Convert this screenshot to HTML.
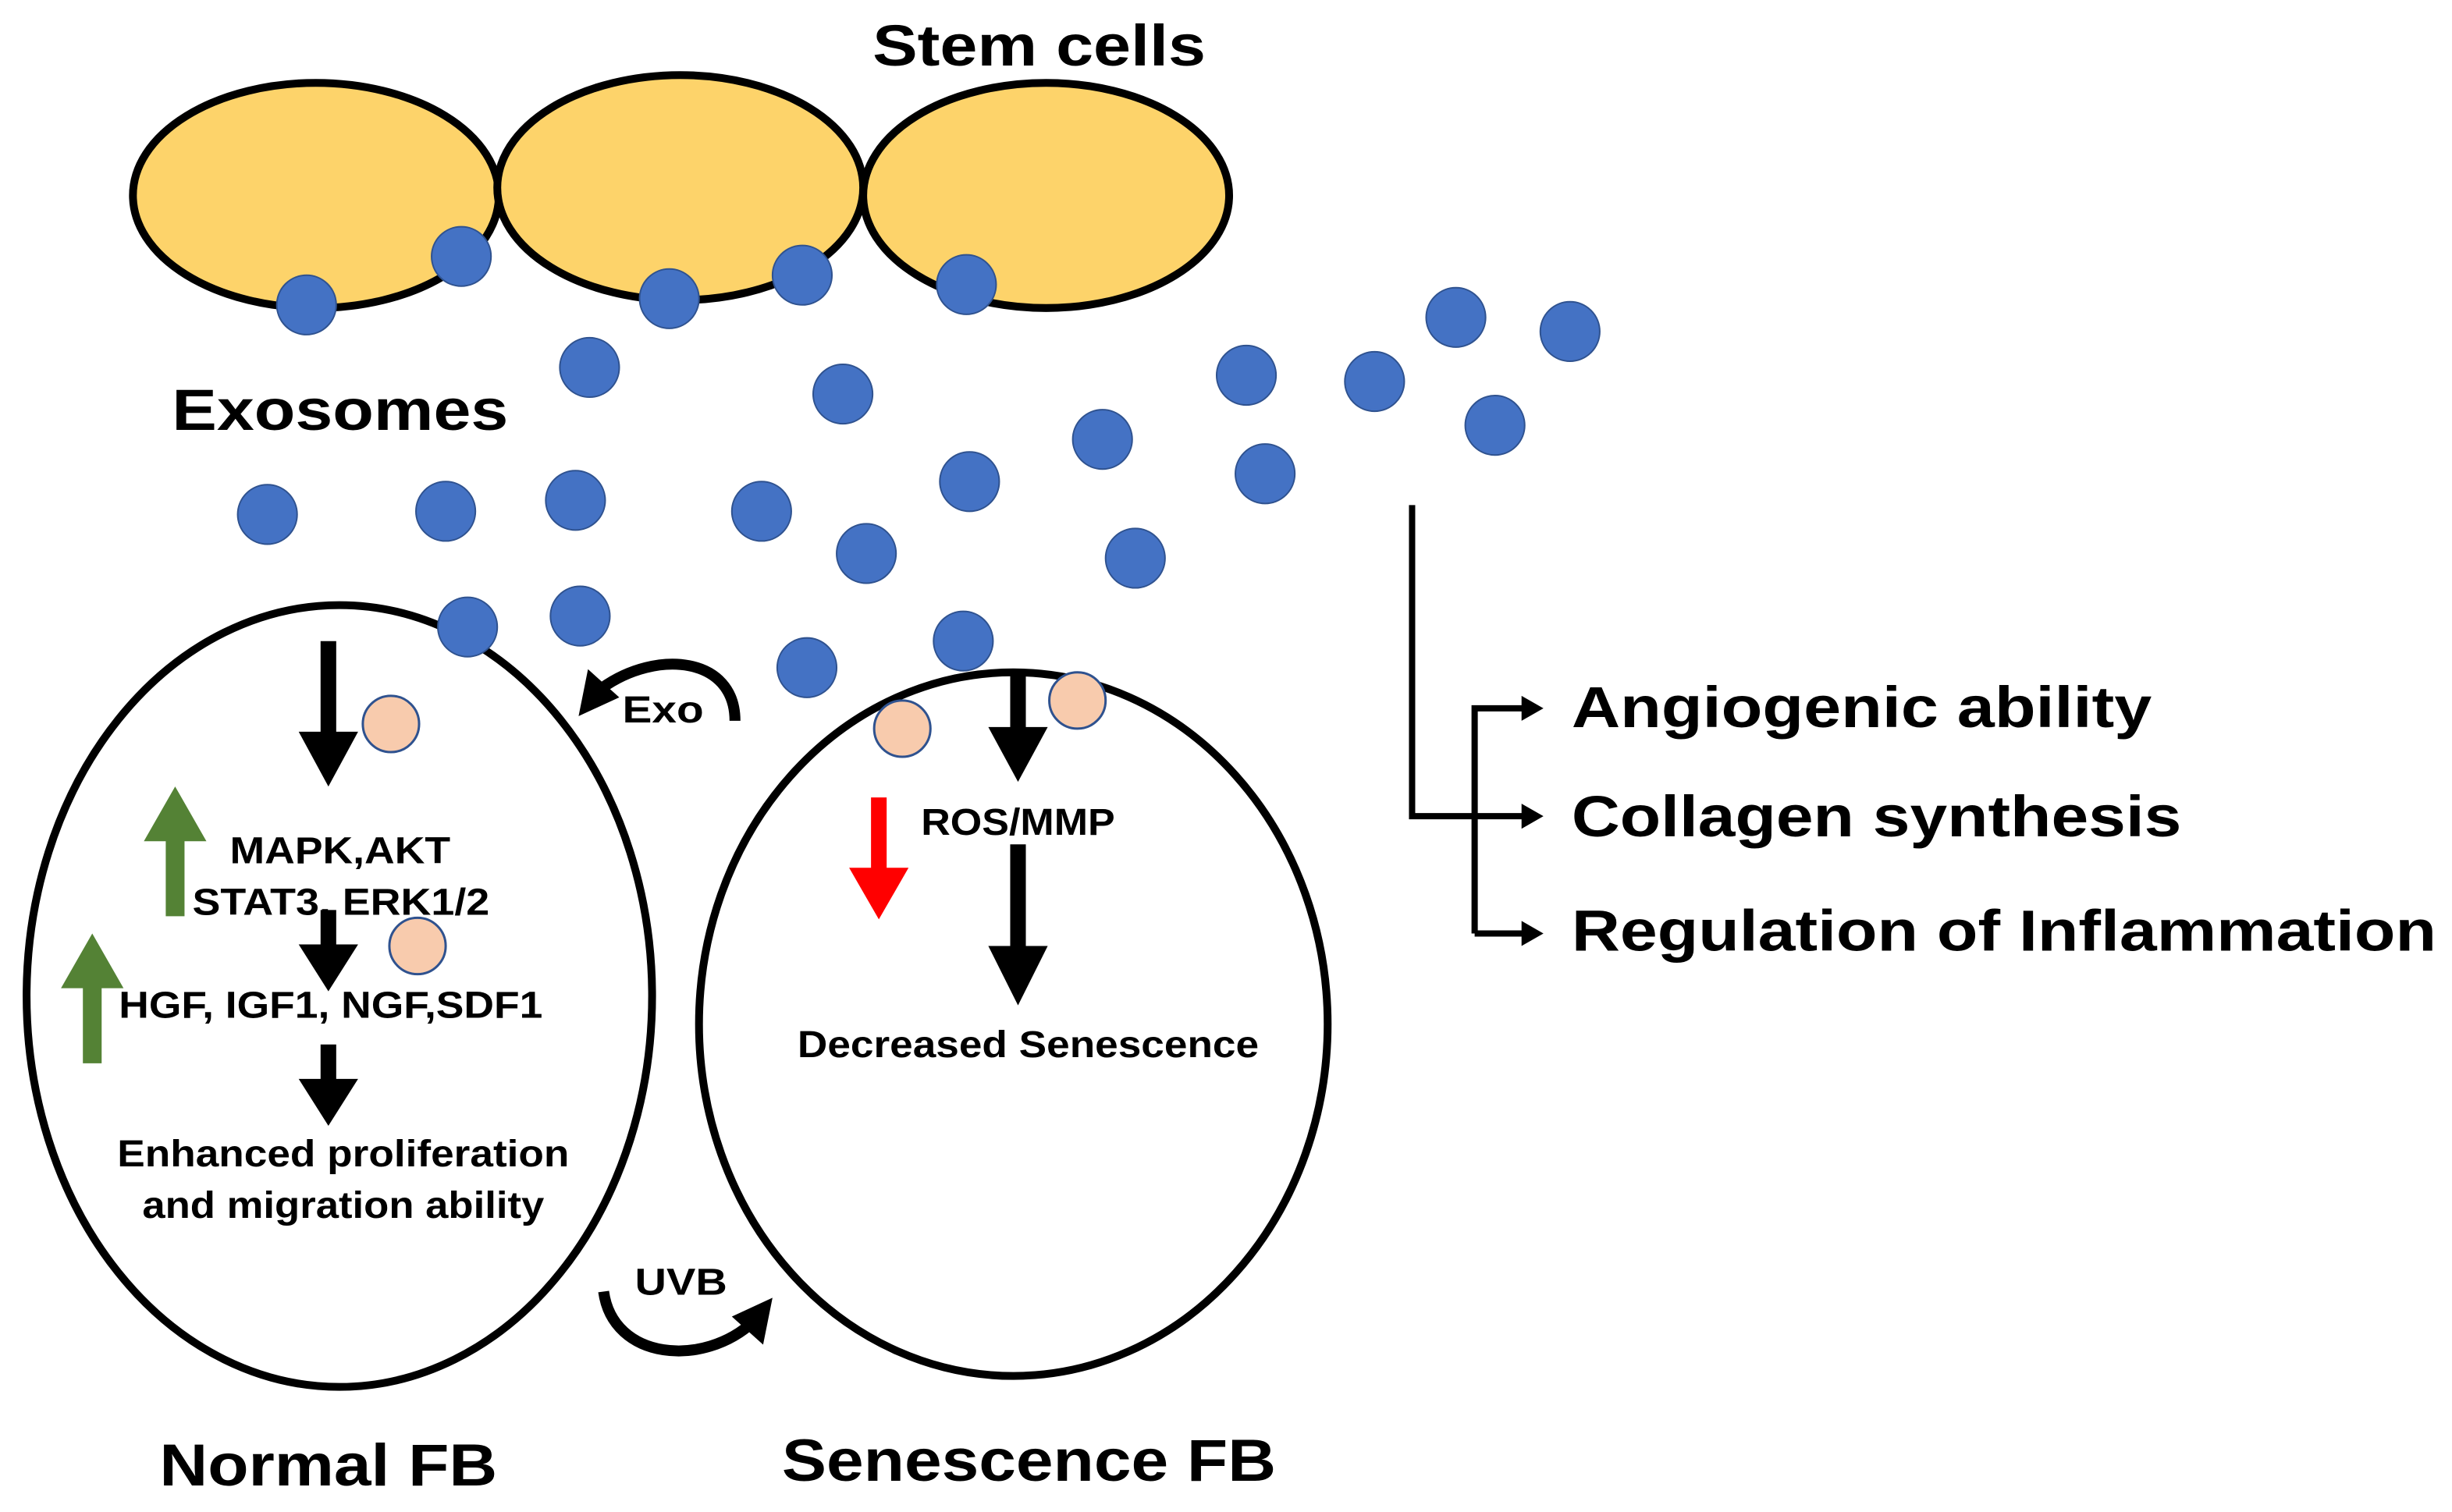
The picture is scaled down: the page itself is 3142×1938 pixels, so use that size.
<!DOCTYPE html>
<html><head><style>html,body{margin:0;padding:0;background:#fff}svg{display:block}</style></head>
<body>
<svg width="3142" height="1938" viewBox="0 0 1568 967" preserveAspectRatio="none" xmlns="http://www.w3.org/2000/svg" font-family="Liberation Sans, sans-serif" font-weight="bold">
<g fill="#fdd36a" stroke="#000" stroke-width="5">
<ellipse cx="202" cy="125" rx="117" ry="72"/>
<ellipse cx="435" cy="120" rx="117" ry="72"/>
<ellipse cx="669" cy="125" rx="117" ry="72"/>
</g>
<text x="558" y="42" font-size="37" textLength="213" lengthAdjust="spacingAndGlyphs">Stem cells</text>
<text x="110" y="275" font-size="37" textLength="215" lengthAdjust="spacingAndGlyphs">Exosomes</text>
<g fill="none" stroke="#000" stroke-width="5">
<ellipse cx="217" cy="637" rx="200" ry="250"/>
<ellipse cx="648" cy="655" rx="201" ry="225"/>
</g>
<g fill="#4472c4" stroke="#2f528f" stroke-width="1">
<circle cx="196" cy="195" r="19"/><circle cx="295" cy="164" r="19"/><circle cx="428" cy="191" r="19"/><circle cx="513" cy="176" r="19"/><circle cx="618" cy="182" r="19"/><circle cx="377" cy="235" r="19"/><circle cx="539" cy="252" r="19"/><circle cx="797" cy="240" r="19"/><circle cx="879" cy="244" r="19"/><circle cx="931" cy="203" r="19"/><circle cx="1004" cy="212" r="19"/><circle cx="956" cy="272" r="19"/><circle cx="705" cy="281" r="19"/><circle cx="809" cy="303" r="19"/><circle cx="620" cy="308" r="19"/><circle cx="171" cy="329" r="19"/><circle cx="285" cy="327" r="19"/><circle cx="368" cy="320" r="19"/><circle cx="487" cy="327" r="19"/><circle cx="554" cy="354" r="19"/><circle cx="726" cy="357" r="19"/><circle cx="299" cy="401" r="19"/><circle cx="371" cy="394" r="19"/><circle cx="516" cy="427" r="19"/><circle cx="616" cy="410" r="19"/>
</g>
<g fill="#f8cbad" stroke="#2f528f" stroke-width="1.5">
<circle cx="250" cy="463" r="18"/><circle cx="267" cy="605" r="18"/><circle cx="577" cy="466" r="18"/><circle cx="689" cy="448" r="18"/>
</g>
<g fill="#000">
<path d="M205,410 h10 v58 h14 l-19,35 l-19,-35 h14 z"/>
<path d="M205,582 h10 v22 h14 l-19,30 l-19,-30 h14 z"/>
<path d="M205,668 h10 v22 h14 l-19,30 l-19,-30 h14 z"/>
<path d="M646,428 h10 v37 h14 l-19,35 l-19,-35 h14 z"/>
<path d="M646,540 h10 v65 h14 l-19,38 l-19,-38 h14 z"/>
</g>
<g fill="#548235">
<path d="M106,586 v-48 h-14 l20,-35 l20,35 h-14 v48 z"/>
<path d="M53,680 v-48 h-14 l20,-35 l20,35 h-14 v48 z"/>
</g>
<path d="M557,510 h10 v45 h14 l-19,33 l-19,-33 h14 z" fill="#ff0000"/>
<g font-size="24" lengthAdjust="spacingAndGlyphs">
<text x="147" y="552" textLength="141" lengthAdjust="spacingAndGlyphs">MAPK,AKT</text>
<text x="123" y="585" textLength="190" lengthAdjust="spacingAndGlyphs">STAT3, ERK1/2</text>
<text x="76" y="651" textLength="271" lengthAdjust="spacingAndGlyphs">HGF, IGF1, NGF,SDF1</text>
<text x="75" y="746" textLength="289" lengthAdjust="spacingAndGlyphs">Enhanced proliferation</text>
<text x="91" y="779" textLength="257" lengthAdjust="spacingAndGlyphs">and migration ability</text>
<text x="589" y="534" textLength="124" lengthAdjust="spacingAndGlyphs">ROS/MMP</text>
<text x="510" y="676" textLength="295" lengthAdjust="spacingAndGlyphs">Decreased Senescence</text>
<text x="398" y="462" textLength="52" lengthAdjust="spacingAndGlyphs">Exo</text>
<text x="406" y="828" textLength="59" lengthAdjust="spacingAndGlyphs">UVB</text>
</g>
<path d="M470,461 C470,420 420,415 385,440" fill="none" stroke="#000" stroke-width="7"/>
<path d="M370,458 l6,-30 l20,18 z" fill="#000"/>
<path d="M386,826 C392,870 450,875 482,845" fill="none" stroke="#000" stroke-width="7"/>
<path d="M494,830 l-6,30 l-20,-18 z" fill="#000"/>
<g stroke="#000" stroke-width="4" fill="none">
<path d="M903,323 V522 H975"/>
<path d="M943,597 V453 H975"/>
<path d="M943,597 H975"/>
</g>
<g fill="#000">
<path d="M973,445 l14,8 l-14,8 z"/><path d="M973,514 l14,8 l-14,8 z"/><path d="M973,589 l14,8 l-14,8 z"/>
</g>
<g font-size="37">
<text x="1005" y="465" textLength="371" lengthAdjust="spacingAndGlyphs">Angiogenic ability</text>
<text x="1005" y="535" textLength="390" lengthAdjust="spacingAndGlyphs">Collagen synthesis</text>
<text x="1005" y="608" textLength="553" lengthAdjust="spacingAndGlyphs">Regulation of Inflammation</text>
</g>
<g font-size="38">
<text x="102" y="950" textLength="216" lengthAdjust="spacingAndGlyphs">Normal FB</text>
<text x="500" y="947" textLength="316" lengthAdjust="spacingAndGlyphs">Senescence FB</text>
</g>
</svg>
</body></html>
